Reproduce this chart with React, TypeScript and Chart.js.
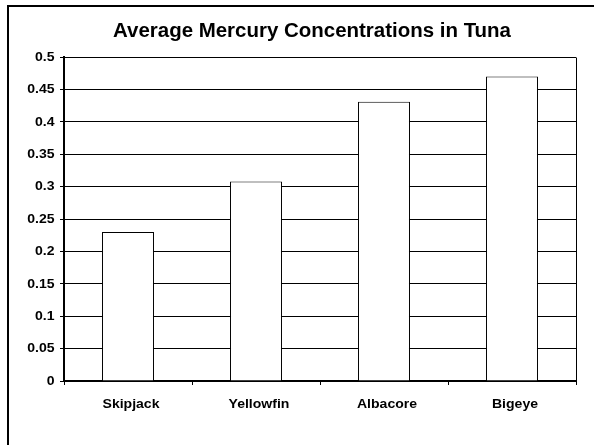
import React, { useEffect, useRef } from "react";
import { Chart, registerables } from "chart.js";

Chart.register(...registerables);

const TITLE = "Average Mercury Concentrations in Tuna";
const categories = ["Skipjack", "Yellowfin", "Albacore", "Bigeye"];
const mercury = [0.23, 0.308, 0.431, 0.47];
const yMin = 0;
const yMax = 0.5;
const yStep = 0.05;

const FONT = "Arial, 'Liberation Sans', sans-serif";
const TICK_STRETCH = 1.17;

function fmt(v: number) {
  return String(Math.round(v * 100) / 100);
}

export default function App() {
  const ref = useRef<HTMLCanvasElement | null>(null);

  useEffect(() => {
    document.body.style.margin = "0";
    const canvas = ref.current;
    if (!canvas) return;

    const drawStretched = (
      ctx: CanvasRenderingContext2D,
      text: string,
      x: number,
      y: number,
      align: "left" | "center" | "right",
      sx: number
    ) => {
      ctx.save();
      ctx.translate(x, y);
      ctx.scale(sx, 1);
      ctx.textAlign = align;
      ctx.fillText(text, 0, 0);
      ctx.restore();
    };

    const decor = {
      id: "decor",
      beforeDraw(chart: any) {
        const ctx = chart.ctx;
        ctx.save();
        ctx.fillStyle = "#ffffff";
        ctx.fillRect(0, 0, chart.width, chart.height);
        ctx.strokeStyle = "#000000";
        ctx.lineWidth = 2;
        ctx.strokeRect(8, 6, chart.width + 20, chart.height + 20);
        ctx.fillStyle = "#000000";
        ctx.font = "bold 20px " + FONT;
        ctx.textBaseline = "alphabetic";
        const w = ctx.measureText(TITLE).width;
        drawStretched(ctx, TITLE, 312, 37, "center", 398 / w);
        ctx.restore();
      },
      afterDraw(chart: any) {
        const { left, right, top, bottom } = chart.chartArea;
        const ctx = chart.ctx;
        ctx.save();
        ctx.strokeStyle = "#000000";
        ctx.lineWidth = 1;
        ctx.beginPath();
        ctx.moveTo(Math.round(right) + 0.5, Math.round(top) + 0.5);
        ctx.lineTo(Math.round(right) + 0.5, Math.round(bottom) + 0.5);
        ctx.stroke();

        ctx.fillStyle = "#000000";
        ctx.font = "bold 12px " + FONT;
        // y tick labels
        const ys = chart.scales.y;
        ctx.textBaseline = "middle";
        ys.ticks.forEach((t: any) => {
          const py = ys.getPixelForValue(t.value);
          drawStretched(ctx, fmt(t.value), left - 9.5, py + 0.5, "right", TICK_STRETCH);
        });
        // x tick labels
        const xs = chart.scales.x;
        ctx.textBaseline = "alphabetic";
        categories.forEach((c, i) => {
          const px = xs.getPixelForValue(i);
          drawStretched(ctx, c, px + 3, bottom + 26.5, "center", TICK_STRETCH);
        });
        ctx.restore();
      },
    };

    const chart = new Chart(canvas, {
      type: "bar",
      data: {
        labels: categories,
        datasets: [
          {
            data: mercury,
            backgroundColor: "#ffffff",
            borderColor: "#000000",
            borderWidth: 1,
            barPercentage: 0.406,
            categoryPercentage: 1,
          },
        ],
      },
      options: {
        animation: false,
        responsive: false,
        maintainAspectRatio: false,
        layout: { padding: { top: 57, left: 0, right: 18, bottom: 0 } },
        plugins: {
          legend: { display: false },
          title: { display: false },
          tooltip: { enabled: false },
        },
        scales: {
          x: {
            grid: {
              drawOnChartArea: false,
              drawTicks: true,
              tickLength: 4,
              color: "#000000",
              offset: true,
            },
            border: { display: true, color: "#000000", width: 2 },
            ticks: { display: false },
            afterFit(scale: any) {
              scale.height = 64;
            },
          },
          y: {
            min: yMin,
            max: yMax,
            grid: {
              color: "#000000",
              lineWidth: 1,
              drawTicks: true,
              tickLength: 4,
            },
            border: { display: true, color: "#000000", width: 2 },
            ticks: { display: false, stepSize: yStep },
            afterFit(scale: any) {
              scale.width = 64;
            },
          },
        },
      },
      plugins: [decor],
    });

    return () => chart.destroy();
  }, []);

  return (
    <div style={{ position: "absolute", left: 0, top: 0, width: 594, height: 445 }}>
      <canvas ref={ref} width={594} height={445} style={{ width: 594, height: 445, display: "block" }} />
    </div>
  );
}
